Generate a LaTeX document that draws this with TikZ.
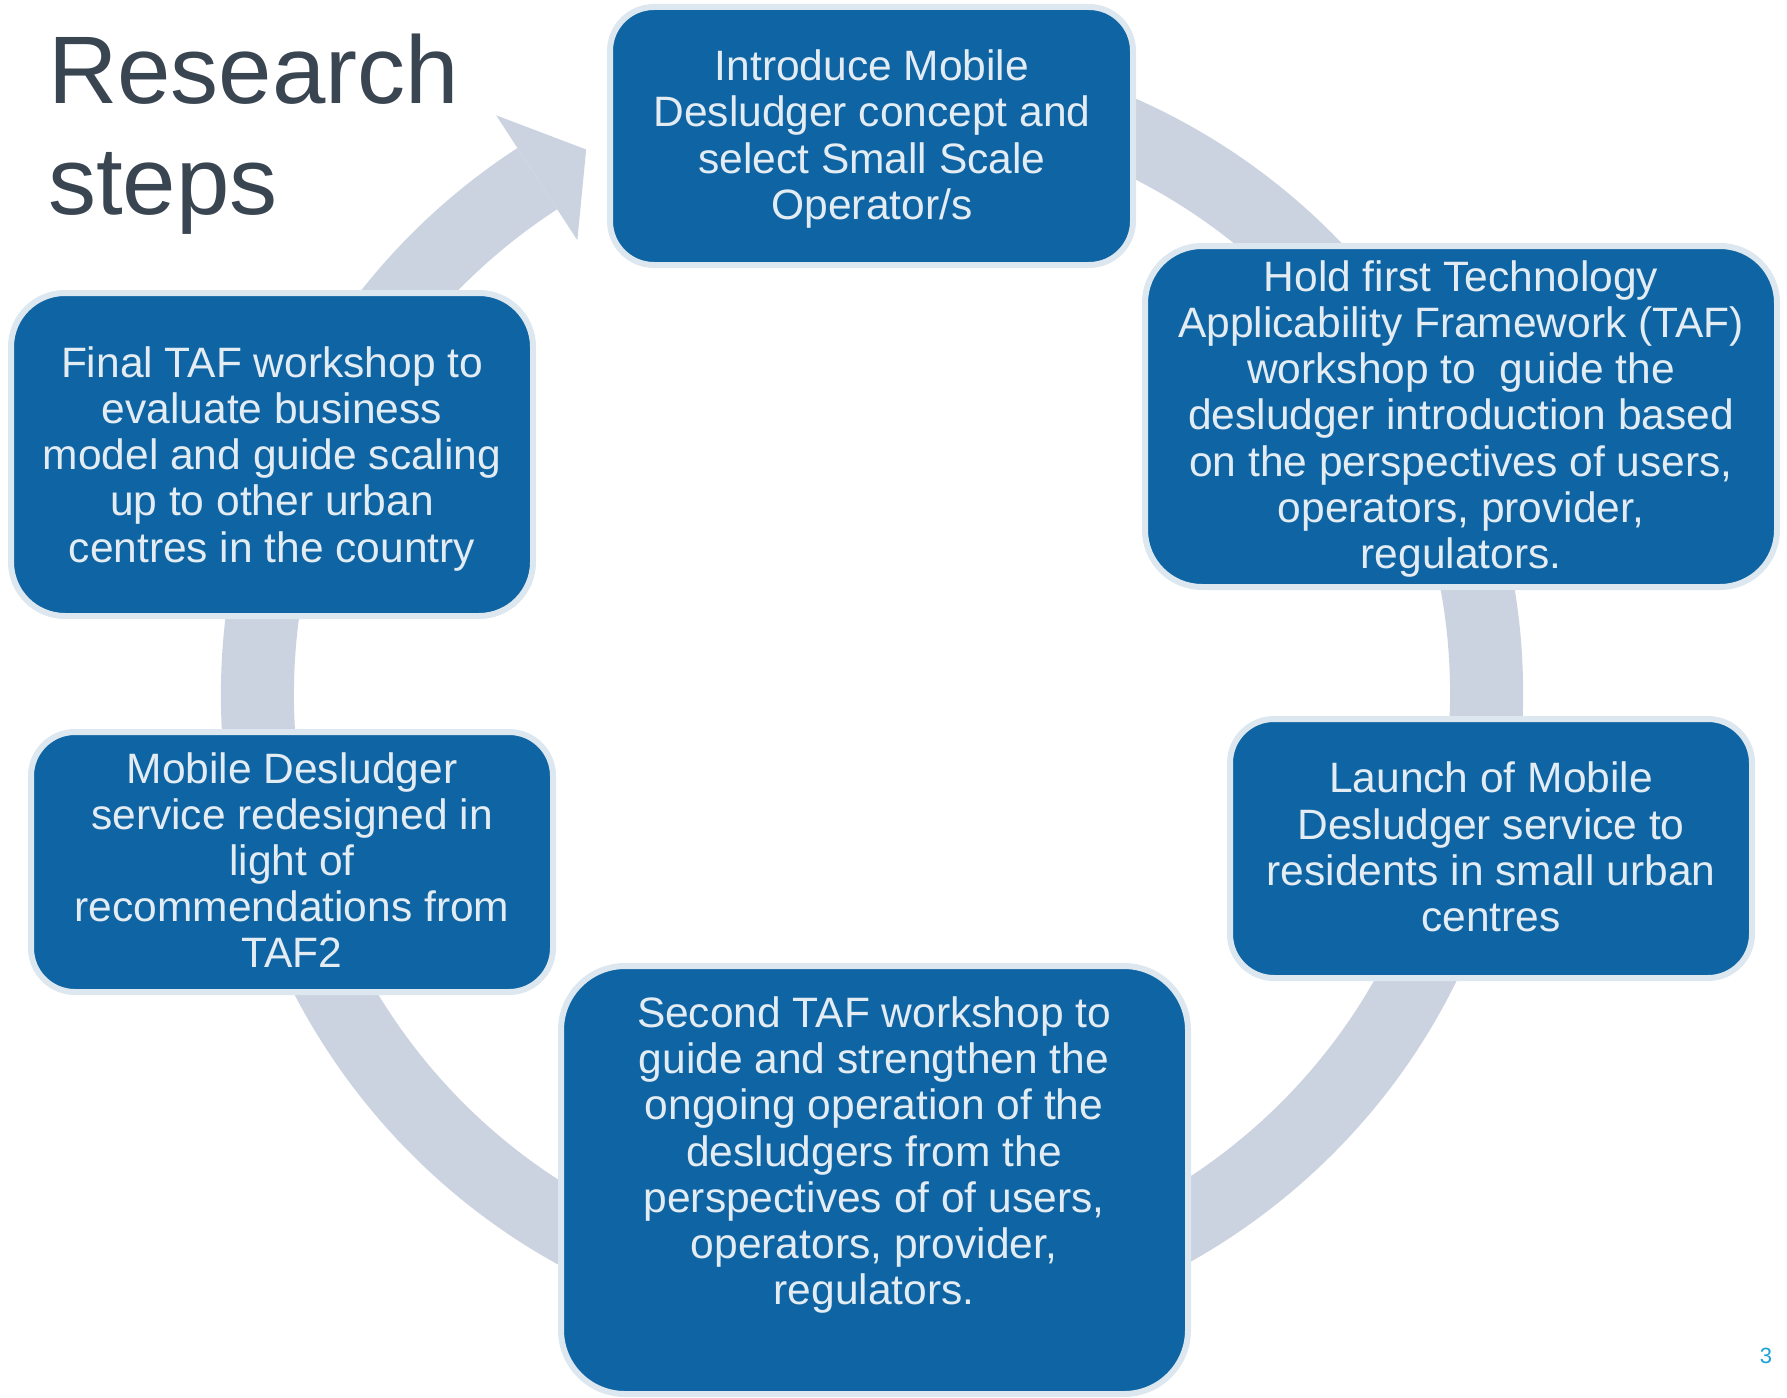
\documentclass[tikz,border=0pt]{standalone}
\usepackage{fontspec}
\setmainfont{Liberation Sans}
\definecolor{boxfill}{HTML}{0F65A3}
\definecolor{boxline}{HTML}{DCE7EF}
\definecolor{boxtext}{HTML}{E4ECF3}
\definecolor{ringc}{HTML}{CBD3E0}
\definecolor{titlec}{HTML}{3A4552}
\definecolor{pagec}{HTML}{1BA0D8}
\tikzset{
  stepbox/.style={draw=boxline, line width=6pt, fill=boxfill, inner sep=0pt},
  steptext/.style={text=boxtext, align=center, inner sep=0pt,
    font=\fontsize{42.5}{46.2}\selectfont},
  titletext/.style={text=titlec, inner sep=0pt, anchor=base west,
    font=\fontsize{96}{110}\selectfont},
}
\begin{document}
\begin{tikzpicture}[x=1pt,y=1pt]
\useasboundingbox (0,0) rectangle (1787,-1397);
% ring with arrowhead
\begin{scope}[shift={(872,-694)}]
  \fill[ringc] (80:651) arc[start angle=80, end angle=-237, radius=651]
     -- (-237:578) arc[start angle=-237, end angle=80, radius=578] -- cycle;
  \fill[ringc] (123:690) -- (117.7:615) -- (123:541) -- cycle;
\end{scope}
% title
\node[titletext] (title1) at (48,-103) {Research};
\node[titletext] (title2) at (48,-214) {steps};
% boxes
\node[stepbox, minimum width=523, minimum height=258, rounded corners=44] (b1) at (871.5,-136) {};
\node[stepbox, minimum width=632, minimum height=341, rounded corners=57] (b2) at (1461,-416.5) {};
\node[stepbox, minimum width=522, minimum height=259, rounded corners=44] (b3) at (1491,-848.5) {};
\node[stepbox, minimum width=627, minimum height=428, rounded corners=64] (b4) at (874.5,-1180) {};
\node[stepbox, minimum width=522, minimum height=260, rounded corners=44] (b5) at (292,-862) {};
\node[stepbox, minimum width=522, minimum height=323, rounded corners=54] (b6) at (272,-454.5) {};
% texts
\node[steptext] (t1) at (872,-139) {Introduce Mobile\\Desludger concept and\\select Small Scale\\Operator/s};
\node[steptext] (t2) at (1461,-419) {Hold first Technology\\Applicability Framework (TAF)\\workshop to\ \ guide the\\desludger introduction based\\on the perspectives of users,\\operators, provider,\\regulators.};
\node[steptext] (t3) at (1491,-847) {Launch of Mobile\\Desludger service to\\residents in small urban\\centres};
\node[steptext] (t4) at (874,-1155) {Second TAF workshop to\\guide and strengthen the\\ongoing operation of the\\desludgers from the\\perspectives of of users,\\operators, provider,\\regulators.};
\node[steptext] (t5) at (292,-860) {Mobile Desludger\\service redesigned in\\light of\\recommendations from\\TAF2};
\node[steptext] (t6) at (272,-458.7) {Final TAF workshop to\\evaluate business\\model and guide scaling\\up to other urban\\centres in the country};
% page number
\node[text=pagec, inner sep=0pt, font=\fontsize{22}{26}\selectfont] (pg) at (1766,-1356) {3};
\end{tikzpicture}
\end{document}
